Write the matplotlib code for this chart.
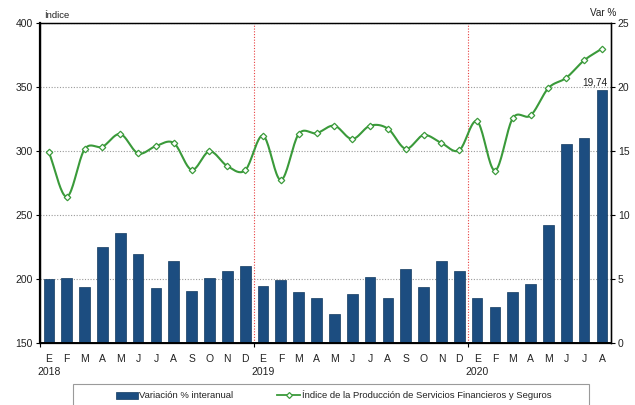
import numpy as np
import matplotlib
matplotlib.use("Agg")
import matplotlib.pyplot as plt
from matplotlib.patches import Rectangle
from matplotlib.lines import Line2D

plt.rcParams['font.family'] = ['Liberation Sans', 'DejaVu Sans']

months = ["E", "F", "M", "A", "M", "J", "J", "A", "S", "O", "N", "D",
          "E", "F", "M", "A", "M", "J", "J", "A", "S", "O", "N", "D",
          "E", "F", "M", "A", "M", "J", "J", "A"]
years = ["2018", "2019", "2020"]

# Variación % interanual
variacion = [5.00, 5.07, 4.40, 7.52, 8.59, 6.97, 4.27, 6.43, 4.08, 5.05, 5.65, 6.04,
             4.45, 4.92, 4.00, 3.54, 2.29, 3.83, 5.18, 3.54, 5.80, 4.40, 6.38, 5.62,
             3.54, 2.84, 3.96, 4.63, 9.21, 15.53, 16.03, 19.74]

# Índice de la Producción de Servicios Financieros y Seguros
indice = [298.8, 264.2, 301.2, 303.2, 313.1, 298.0, 303.7, 306.1, 285.2, 299.6, 288.1, 284.8,
          311.8, 277.2, 313.1, 313.7, 319.6, 309.2, 319.6, 317.3, 301.6, 312.3, 306.1, 300.4,
          323.0, 284.6, 325.4, 327.6, 349.0, 357.0, 370.6, 379.7]

bar_color = "#1C4D80"
line_color = "#3A9A3A"


def catmull_rom(x, y, n=20):
    """Smooth curve through the given points (Catmull-Rom spline)."""
    x = np.asarray(x, float)
    y = np.asarray(y, float)
    px = np.concatenate([[2 * x[0] - x[1]], x, [2 * x[-1] - x[-2]]])
    py = np.concatenate([[2 * y[0] - y[1]], y, [2 * y[-1] - y[-2]]])
    xs, ys = [], []
    t = np.linspace(0, 1, n, endpoint=False)
    for i in range(1, len(px) - 2):
        p0, p1, p2, p3 = py[i - 1], py[i], py[i + 1], py[i + 2]
        q0, q1, q2, q3 = px[i - 1], px[i], px[i + 1], px[i + 2]
        def seg(a, b, c, d):
            return 0.5 * ((2 * b) + (-a + c) * t + (2 * a - 5 * b + 4 * c - d) * t ** 2
                          + (-a + 3 * b - 3 * c + d) * t ** 3)
        xs.append(seg(q0, q1, q2, q3))
        ys.append(seg(p0, p1, p2, p3))
    xs.append([x[-1]])
    ys.append([y[-1]])
    return np.concatenate(xs), np.concatenate(ys)


fig = plt.figure(figsize=(6.35, 4.05), dpi=100)
ax = fig.add_axes([0.063, 0.153, 0.899, 0.791])
ax2 = ax.twinx()

n = len(variacion)
xpos = np.arange(n)

# Bars on the right-hand (percentage) scale
ax2.bar(xpos, variacion, width=0.6, color=bar_color, edgecolor="#123A60",
        linewidth=0.5, zorder=3)
ax2.set_ylim(0, 25)
ax2.set_yticks(np.arange(0, 26, 5))
ax2.yaxis.grid(True, linestyle=(0, (1, 1.5)), color="#9A9A9A", linewidth=0.8, zorder=0)
ax2.set_axisbelow(True)
for xb in (11.5, 23.5):
    ax2.axvline(xb, color="#E84040", linestyle=(0, (1, 1.5)), linewidth=0.8, zorder=1)

ax2.annotate(f"{variacion[-1]:.2f}".replace(".", ","), xy=(xpos[-1], variacion[-1]),
             xytext=(-5, 2), textcoords="offset points", ha="center", va="bottom",
             fontsize=7.2, color="#222222")

# Smoothed index line on the left-hand scale, drawn above the bars
ax.set_zorder(ax2.get_zorder() + 1)
ax.patch.set_visible(False)
sx, sy = catmull_rom(xpos, indice)
ax.plot(sx, sy, color=line_color, linewidth=1.5, zorder=4)
ax.plot(xpos, indice, linestyle="none", marker="D", markersize=3.3,
        markerfacecolor="white", markeredgecolor=line_color, markeredgewidth=0.9, zorder=5)
ax.set_ylim(150, 400)
ax.set_yticks(np.arange(150, 401, 50))
ax.set_xlim(-0.5, n - 0.5)

# X axis: month letters, year under each January, ticks at year boundaries
ax.set_xticks([-0.5, 11.5, 23.5])
ax.set_xticklabels([])
ax.tick_params(axis="x", direction="out", length=3, width=0.8, color="black")
for i, m in enumerate(months):
    ax.text(i, -0.035, m, transform=ax.get_xaxis_transform(), ha="center", va="top",
            fontsize=7.5, color="#222222")
for k, yr in enumerate(years):
    ax.text(12 * k, -0.075, yr, transform=ax.get_xaxis_transform(), ha="center", va="top",
            fontsize=7.5, color="#222222")

for a in (ax, ax2):
    for s in a.spines.values():
        s.set_color("black")
        s.set_linewidth(0.9)
ax.spines["left"].set_linewidth(1.6)
ax.spines["bottom"].set_linewidth(1.4)
ax2.spines["right"].set_linewidth(1.0)
ax.tick_params(axis="y", direction="out", length=3, width=0.8, labelsize=7.5,
               labelcolor="#222222", pad=2)
ax2.tick_params(axis="y", direction="out", length=3, width=0.8, labelsize=7.5,
                labelcolor="#222222", pad=2)

fig.text(44 / 635, 1 - 15 / 405, "Índice", fontsize=6.8, color="#222222", va="center")
fig.text(616 / 635, 1 - 13 / 405, "Var %", fontsize=7.2, color="#222222", va="center", ha="right")

# Legend box, running off the lower edge of the figure
fig.patches.append(Rectangle((73 / 635, -0.05), (589 - 73) / 635, (405 - 384) / 405 + 0.05,
                             transform=fig.transFigure, facecolor="white",
                             edgecolor="#9A9A9A", linewidth=0.8))
ly = 1 - 395 / 405
fig.patches.append(Rectangle((116 / 635, ly - 3.5 / 405), 22 / 635, 7 / 405,
                             transform=fig.transFigure, facecolor=bar_color,
                             edgecolor="#123A60", linewidth=0.5))
fig.text(139 / 635, ly, "Variación % interanual", fontsize=6.8, color="#222222", va="center")
fig.lines.append(Line2D([277 / 635, 300 / 635], [ly, ly], transform=fig.transFigure,
                        color=line_color, linewidth=1.3))
fig.lines.append(Line2D([288.5 / 635], [ly], transform=fig.transFigure, marker="D",
                        markersize=3, markerfacecolor="white", markeredgecolor=line_color,
                        markeredgewidth=0.9))
fig.text(302 / 635, ly, "Índice de la Producción de Servicios Financieros y Seguros",
         fontsize=6.8, color="#222222", va="center")

fig.savefig("out.png", dpi=100)
